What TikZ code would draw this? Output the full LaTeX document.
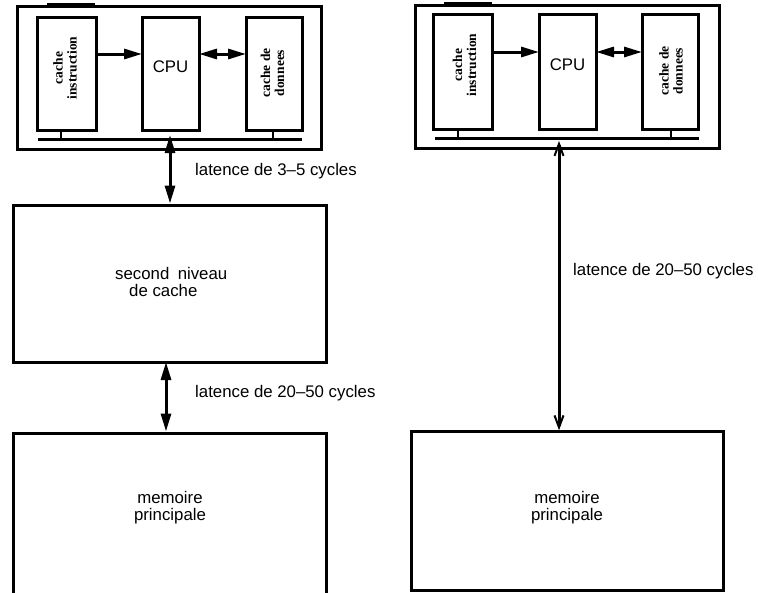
\documentclass[tikz,border=0pt]{standalone}
\usepackage{fontspec}
\setmainfont{Liberation Sans}
\newfontfamily\tmsfont{Liberation Serif}
\usetikzlibrary{arrows.meta}
\begin{document}
\begin{tikzpicture}[x=1pt,y=-1pt,
  box/.style={draw,line width=3pt,inner sep=0pt,minimum width=#1},
  lbl/.style={font=\fontsize{16.8}{17.5}\selectfont,inner sep=0pt},
  vlbl/.style={rotate=90,align=center,inner sep=0pt,font=\tmsfont\bfseries\fontsize{13.5}{14}\selectfont},
  bus/.style={line width=2.5pt},
  stub/.style={line width=1.8pt},
  farrow/.style={line width=3pt,-{Triangle[length=18pt,width=10pt]}},
  fdarrow/.style={line width=3pt,{Triangle[length=18pt,width=10pt]}-{Triangle[length=18pt,width=10pt]}},
  oarrow/.style={line width=3pt,{Straight Barb[length=12pt,width=9pt,line width=2pt]}-{Straight Barb[length=12pt,width=9pt,line width=2pt]}},
  topmark/.style={line width=4pt}]
\useasboundingbox (0,0) rectangle (758,592);

% ---------------- left side ----------------
\node[box=304pt,minimum height=143pt] (outL) at (169,77.5) {};
\draw[topmark] (47,5) -- (95,5);
\node[box=59pt,minimum height=113pt] (ciL) at (66.5,73.5) {};
\node[box=57pt,minimum height=113pt] (cpuL) at (170.5,73.5) {};
\node[box=56pt,minimum height=113pt] (cddL) at (274,73.5) {};
\node[vlbl] (ciLt) at (65,68) {cache\\instruction};
\node[vlbl] (cddLt) at (272.5,73) {cache de\\donnees};
\node[lbl] (cpuLt) at (170.5,67) {CPU};
\coordinate (busLa) at (38,139.5);
\coordinate (busLb) at (302,139.5);
\draw[bus] (busLa) -- (busLb);
\draw[stub] (ciL.south -| 61,0) -- (busLa -| 61,0);
\draw[stub] (cddL.south -| 273,0) -- (busLa -| 273,0);
\coordinate (ciLo) at (96,54);
\coordinate (cpuLi) at (142,54);
\coordinate (cpuLo) at (199,54);
\coordinate (cddLi) at (246,54);
\draw[farrow] (ciLo) -- (cpuLi);
\draw[fdarrow] (cpuLo) -- (cddLi);

\node[box=313pt,minimum height=157pt] (l2) at (169.5,283.5) {};
\node[lbl,align=left,anchor=west] (l2t) at (115,282) {second\enspace niveau\\\hspace{14pt}de cache};
\node[box=313pt,minimum height=167pt] (memL) at (169.5,516.5) {};
\node[lbl,align=center] (memLt) at (170,507.5) {memoire\\principale};

\coordinate (busLm) at (170,135);
\draw[fdarrow] (busLm) -- (busLm |- l2.north);
\coordinate (l2s) at (166,362);
\draw[fdarrow] (l2s) -- (l2s |- memL.north);
\node[lbl,anchor=west] (lat1) at (195,171) {latence de 3--5 cycles};
\node[lbl,anchor=west] (lat2) at (195,393) {latence de 20--50 cycles};

% ---------------- right side ----------------
\node[box=304pt,minimum height=143pt] (outR) at (567,76.5) {};
\draw[topmark] (444,4) -- (492,4);
\node[box=59pt,minimum height=115pt] (ciR) at (462.5,71.5) {};
\node[box=57pt,minimum height=115pt] (cpuR) at (567.5,71.5) {};
\node[box=56pt,minimum height=115pt] (cddR) at (670,71.5) {};
\node[vlbl] (ciRt) at (464.5,65) {cache\\instruction};
\node[vlbl] (cddRt) at (671,71) {cache de\\donnees};
\node[lbl] (cpuRt) at (567.5,65) {CPU};
\coordinate (busRa) at (435,138.5);
\coordinate (busRb) at (699,138.5);
\draw[bus] (busRa) -- (busRb);
\draw[stub] (ciR.south -| 458,0) -- (busRa -| 458,0);
\draw[stub] (cddR.south -| 671,0) -- (busRa -| 671,0);
\coordinate (ciRo) at (492,52);
\coordinate (cpuRi) at (539,52);
\coordinate (cpuRo) at (596,52);
\coordinate (cddRi) at (642,52);
\draw[farrow] (ciRo) -- (cpuRi);
\draw[fdarrow] (cpuRo) -- (cddRi);

\node[box=312pt,minimum height=158.5pt] (memR) at (567,511) {};
\node[lbl,align=center] (memRt) at (567,507.5) {memoire\\principale};
\coordinate (busRm) at (559,141);
\draw[oarrow] (busRm) -- (busRm |- memR.north);
\node[lbl,anchor=west] (lat3) at (573,271) {latence de 20--50 cycles};
\end{tikzpicture}
\end{document}
